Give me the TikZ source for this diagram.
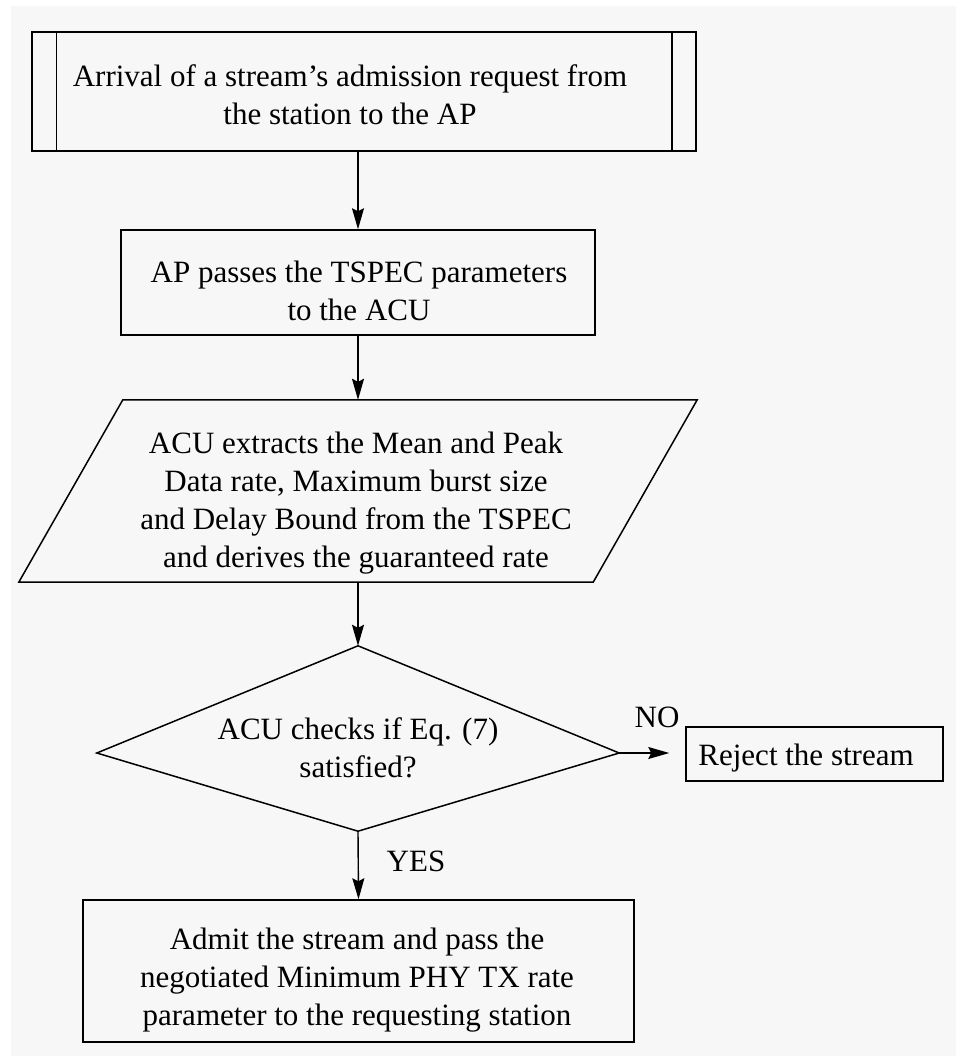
\documentclass[tikz,border=0pt]{standalone}
\usepackage{fontspec}
\setmainfont{Liberation Serif}
\usetikzlibrary{arrows.meta,calc}
\definecolor{paper}{HTML}{F7F7F7}
\begin{document}
\begin{tikzpicture}[x=1pt,y=-1pt,
  box/.style={draw=black, line width=1.5pt, inner sep=0pt},
  outline/.style={draw=black, line width=1.5pt, line join=miter},
  txt/.style={font=\fontsize{31}{38}\selectfont, align=center, inner sep=0pt, text=black},
  flow/.style={line width=1.4pt, -{Stealth[length=21pt,width=12pt,inset=3pt]}}]

% page
\useasboundingbox (0,0) rectangle (956,1056);
\fill[white] (0,0) rectangle (956,1056);
\fill[paper] (11,6) rectangle (956,1056);

% start: predefined-process box
\node[box, minimum width=664pt, minimum height=119pt] (arrival) at (364,91.5) {};
\draw[line width=1.5pt] ([xshift=25pt]arrival.north west) -- ([xshift=25pt]arrival.south west);
\draw[line width=1.5pt] ([xshift=-25pt]arrival.north east) -- ([xshift=-25pt]arrival.south east);
\node[txt] (arrivaltxt) at (350,95) {Arrival of a stream's admission request from\\the station to the AP};

% AP step
\node[box, minimum width=474pt, minimum height=105pt] (ap) at (358,282.5) {};
\node[txt] (aptxt) at (359,291) {AP passes the TSPEC parameters\\to the ACU};

% ACU extraction (parallelogram)
\node[inner sep=0pt, minimum width=574pt, minimum height=182pt] (extract) at (358,491) {};
\draw[outline] ($(extract.north west)+(52,0)$) -- ($(extract.north east)+(52,0)$)
  -- ($(extract.south east)+(-52,0)$) -- ($(extract.south west)+(-52,0)$) -- cycle;
\node[txt] (extracttxt) at (356,503) {ACU extracts the Mean and Peak\\Data rate, Maximum burst size\\and Delay Bound from the TSPEC\\and derives the guaranteed rate};

% decision: side corners sit below the middle of the frame
\node[inner sep=0pt, minimum width=522pt, minimum height=185pt] (check) at (358,738.5) {};
\coordinate (checkL) at ($(check.west)+(0,14.5)$);
\coordinate (checkR) at ($(check.east)+(0,14.5)$);
\draw[outline] (checkL) -- (check.north) -- (checkR) -- (check.south) -- cycle;
\node[txt] (checktxt) at (358,748) {ACU checks if Eq. (7)\\satisfied?};

% reject
\node[box, minimum width=257pt, minimum height=54pt] (reject) at (814.5,754) {};
\node[txt] (rejecttxt) at (806,758) {Reject the stream};

% admit
\node[box, minimum width=551pt, minimum height=142pt] (admit) at (358.5,971) {};
\node[txt] (admittxt) at (357,980) {Admit the stream and pass the\\negotiated Minimum PHY TX rate\\parameter to the requesting station};

% connectors
\draw[flow] (arrival.south -| ap.north) -- (ap.north);
\draw[flow] (ap.south) -- (extract.north);
\draw[flow] (extract.south) -- (check.north);
\draw[flow] (check.south) -- (admit.north);
\draw[flow, shorten >=16pt] (checkR) -- (checkR -| reject.west);

% branch labels
\node[txt] (yes) at (416,861) {YES};
\node[txt] (no) at (657,717) {NO};
\end{tikzpicture}
\end{document}
